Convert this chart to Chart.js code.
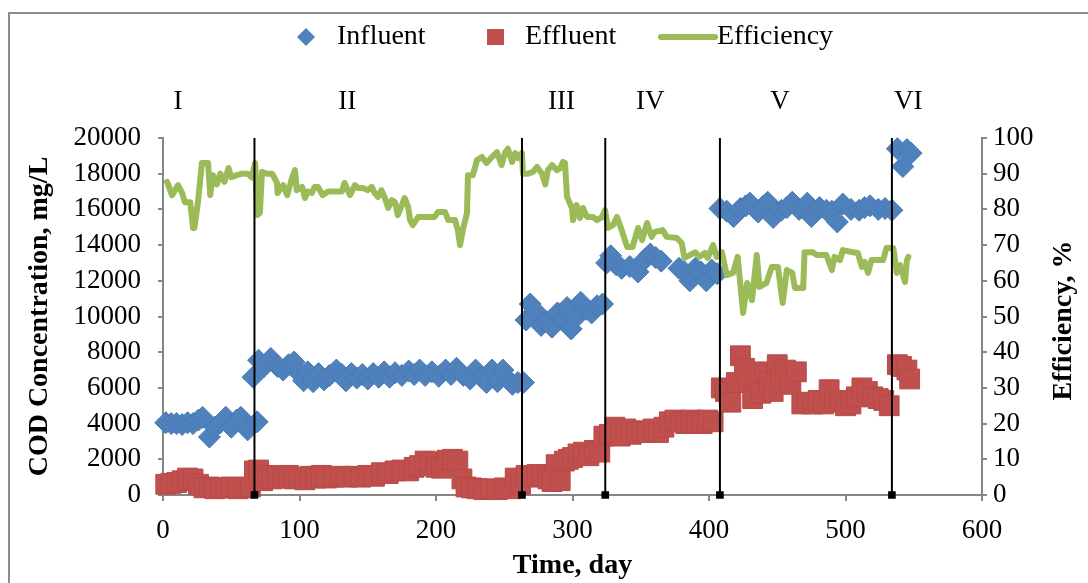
<!DOCTYPE html>
<html>
<head>
<meta charset="utf-8">
<title>COD removal</title>
<script src="https://cdn.jsdelivr.net/npm/chart.js@4.4.1/dist/chart.umd.min.js"></script>
<style>
  html, body { margin: 0; padding: 0; background: #fff; }
  #wrap { position: relative; width: 1088px; height: 583px; }
</style>
</head>
<body>
<div id="wrap"><canvas id="codChart"></canvas></div>
<script>
// values (day, mg/L or %)
const influentDays = [2, 6, 10, 14, 18, 22, 26, 29, 34, 38, 42, 46, 50, 54, 57, 62, 69,
    66, 70, 74, 79, 84, 88, 92, 96, 100, 103, 106, 110, 114, 118, 122, 127, 131, 134, 138, 142, 146, 150, 154, 158, 162, 166, 170, 175, 180, 184, 188, 192, 197, 202, 207, 211, 215, 220, 225, 229, 233, 237, 241, 245, 249, 253, 256, 260, 264,
    266, 269, 273, 277, 281, 285, 289, 293, 296, 299, 302, 306, 310, 314, 318, 322,
    325, 328, 332, 336, 342, 348, 353, 357, 361, 365, 378, 382, 386, 390, 394, 398, 402, 406,
    408, 413, 418, 423, 427, 430, 436, 440, 443, 447, 453, 457, 461, 466, 472, 475, 481, 486, 490, 494, 498, 504, 510, 514, 518, 524, 529, 534,
    538, 542, 545, 548];
const influentCod = [4050, 4000, 4000, 3950, 4050, 4000, 4200, 4350, 3250, 3800, 4050, 4350, 3800, 4200, 4350, 3650, 4100,
    6600, 7550, 7200, 7650, 7200, 7000, 7300, 7450, 6800, 6400, 6900, 6350, 6800, 6450, 6700, 7000, 6750, 6400, 6800, 6550, 6750, 6500, 6800, 6600, 6900, 6600, 6850, 6700, 6950, 6750, 7000, 6700, 6900, 6650, 7000, 6750, 7100, 6700, 6500, 7000, 6600, 6300, 7000, 6350, 7000, 6450, 6200, 6300, 6300,
    9800, 10700, 10300, 9500, 9700, 9400, 10200, 9800, 10500, 9300, 9900, 10800, 10400, 10200, 10600, 10700,
    13000, 13400, 12900, 12700, 12800, 12500, 13200, 13500, 13300, 13100, 12700, 12500, 12000, 12700, 12500, 12000, 12600, 12400,
    16050, 15900, 15600, 16050, 16200, 16350, 15850, 16200, 16400, 15550, 15950, 16100, 16400, 16000, 16350, 15600, 16100, 15950, 15900, 15300, 16300, 16000, 15950, 16100, 16200, 16000, 16050, 15950,
    19400, 18400, 19350, 19150];

const effluentDays = [2, 6, 10, 14, 18, 22, 26, 30, 34, 38, 42, 46, 50, 55, 60, 64, 67,
    70, 73, 77, 80, 84, 88, 92, 96, 100, 104, 108, 112, 116, 120, 125, 130, 135, 140, 145, 150, 155, 160, 165, 170, 175, 180, 184, 188, 192, 196, 200, 204, 208, 212, 216, 219, 222, 226, 230, 235, 240, 245, 250, 255, 258, 262,
    266, 270, 274, 278, 282, 285, 288, 291, 294, 297, 300, 304, 308, 312, 316, 320, 323,
    327, 331, 335, 339, 343, 347, 351, 355, 359, 363, 367, 371, 375, 379, 383, 387, 391, 395, 399, 403,
    409, 412, 416, 420, 423, 426, 429, 432, 435, 438, 441, 444, 447, 450, 453, 456, 460, 464, 468, 472, 476, 480, 484, 488, 492, 496, 500, 504, 508, 512, 516, 520, 524, 528, 532,
    538, 541, 545, 547];
const effluentCod = [600, 650, 700, 800, 950, 900, 600, 400, 450, 350, 400, 400, 450, 350, 400, 450, 1350,
    1400, 800, 1100, 900, 1050, 950, 1100, 900, 1000, 850, 1050, 950, 1100, 950, 1000, 1050, 1000, 1050, 1000, 1100, 1050, 1250, 1200, 1350, 1400, 1350, 1550, 1650, 1900, 1850, 1550, 1500, 1950, 2000, 1900, 900, 450, 400, 350, 300, 350, 300, 400, 350, 950, 600,
    1100, 1000, 1150, 1100, 900, 750, 1700, 800, 1900, 2000, 2100, 2300, 2400, 2200, 2500, 2400, 3300,
    3400, 3800, 3300, 3700, 3400, 3500, 3600, 3500, 3700, 3500, 3800, 4100, 4200, 4100, 4000, 4200, 4100, 4000, 4200, 4100,
    6000, 5800, 5200, 6300, 7800, 7100, 6300, 5400, 6400, 5700, 6900, 6300, 5800, 7300, 6700, 7000, 6200, 6900, 5100, 5200, 5100, 5300, 5100, 5900, 5200, 5300, 5000, 5100, 5500, 6000, 5800, 5500, 5400, 5300, 5000,
    7300, 7200, 7000, 6500];

const efficiencyDays = [3, 6.6, 11, 14, 16, 20, 22, 23, 25.6, 28.5, 33, 34.6, 36.6, 39.5, 42, 45, 48, 50, 54, 58, 62, 65, 67.5, 69, 71, 72.5, 76, 80, 83.5, 84,
    88, 91, 94.5, 96.7, 98, 102, 104, 106, 109, 111, 113.5, 117, 121, 131, 133, 137, 140.6, 143, 146.5, 150, 153, 155, 157.5, 160, 162.6, 165, 167.6, 170, 172, 175,
    177, 179.6, 181, 183, 187, 199, 201.5, 206.6, 209, 214, 216, 217.6, 220, 222.7, 223.4, 227, 230, 233.7, 237, 241, 244.7, 248, 250.5, 252.7, 255.7, 258, 260, 263, 263.7, 267.4,
    271, 274, 277.7, 280, 282, 285, 288.6, 291, 293, 294.5, 296, 299.6, 300.4, 303, 305.5, 307.7, 310.6, 315, 318, 321.6, 323.8, 326, 329.7, 332.6, 336, 340, 344, 348, 351, 354.6,
    358, 360.4, 366, 369, 376.5, 380, 382, 386, 390, 393, 397, 399, 403, 405.6, 409.5, 413, 417.6, 421, 425, 428, 431.5, 435, 437, 442, 446, 450.5, 454, 457, 461, 463,
    469, 470, 476, 479, 486, 490, 492, 496, 498, 505.5, 509, 512, 514, 516.5, 519, 527.5, 530, 535, 537.6, 540, 543.6, 545, 546];
const efficiencyPct = [87.7, 84, 86.8, 84.6, 82, 82, 74.8, 74.8, 82, 93, 93, 84, 89.6, 87, 90, 87.7, 91.6, 89, 89.6, 90, 90, 89, 93, 78.4, 79, 90.5, 90, 90, 87.4, 84.6,
    86.8, 84, 88.8, 91, 85.4, 86.3, 83.2, 85, 84.6, 86.3, 86.3, 84, 85, 85, 87.4, 84, 86.8, 86, 86, 85.4, 86.3, 84.6, 83.5, 85.4, 83.2, 80.4, 82.6, 82, 78.4, 81.2,
    83.2, 80.7, 77, 75.6, 77.9, 77.9, 79.3, 79.3, 77, 77, 74.2, 70, 74.8, 79, 89.6, 89.6, 93.8, 94.7, 93, 94.7, 96, 92.4, 95.8, 97, 93.3, 95.8, 94.4, 95.8, 90, 90,
    90.5, 91.9, 90, 87, 91, 92.4, 91, 91.6, 93.3, 93, 83.5, 80.4, 77, 81.2, 77.6, 80.4, 77.9, 77.9, 77, 77.9, 79.8, 74.8, 75.6, 77.9, 74.2, 69.5, 69.5, 74.8, 71.4, 76.2,
    72.3, 73.7, 74.2, 72.3, 72, 70.6, 66.4, 67.2, 68, 66.7, 67.8, 66.4, 70, 66.7, 68, 61.6, 62.2, 66.7, 51, 59.4, 54.6, 67.2, 58.3, 59.4, 63.9, 63.9, 53.8, 63, 62.2, 58,
    58, 68, 68, 67.2, 67.2, 63, 66.7, 65.8, 68.6, 68, 67.8, 63.9, 65.3, 62.2, 65.8, 65.8, 69.2, 69.2, 62.2, 64.4, 59.7, 65.8, 66.7];

// operating phases
const phaseBoundaries = [67, 263, 324, 408, 534];
const phaseLabels = ['I', 'II', 'III', 'IV', 'V', 'VI'];
const phaseLabelDays = [11, 135, 292, 357, 452, 546];

const SERIF = "'Liberation Serif', 'Times New Roman', serif";
const BLUE = '#4F81BD', RED = '#C0504D', GREEN = '#9BBB59', AXIS = '#868686';

function toPoints(xs, ys) {
    const n = Math.min(xs.length, ys.length);
    const pts = [];
    for (let i = 0; i < n; i++) pts.push({ x: xs[i], y: ys[i] });
    return pts;
}

function plainTick(value) {
    return String(value);
}

// roman numerals, legend, right axis title and outer frame
const decorPlugin = {
    id: 'decor',
    afterDraw(chart) {
        const ctx = chart.ctx;
        const xs = chart.scales.x;
        const area = chart.chartArea;
        ctx.save();

        ctx.strokeStyle = '#8c8c8c';
        ctx.lineWidth = 2;
        ctx.beginPath();
        ctx.moveTo(9, 583);
        ctx.lineTo(9, 13);
        ctx.lineTo(1088, 13);
        ctx.stroke();

        ctx.fillStyle = '#000';
        ctx.font = '27px ' + SERIF;
        ctx.textAlign = 'center';
        ctx.textBaseline = 'middle';
        phaseLabels.forEach(function (t, i) {
            ctx.fillText(t, xs.getPixelForValue(phaseLabelDays[i]), area.top - 36);
        });

        // right axis title, reading bottom to top
        ctx.save();
        ctx.translate(1064, (area.top + area.bottom) / 2 + 4);
        ctx.rotate(-Math.PI / 2);
        ctx.font = 'bold 28px ' + SERIF;
        ctx.fillText('Efficiency, %', 0, 0);
        ctx.restore();

        // legend
        const ly = 37;
        ctx.font = '28px ' + SERIF;
        ctx.textAlign = 'left';
        ctx.fillStyle = BLUE;
        ctx.beginPath();
        ctx.moveTo(306, ly - 9); ctx.lineTo(315, ly); ctx.lineTo(306, ly + 9); ctx.lineTo(297, ly);
        ctx.closePath();
        ctx.fill();
        ctx.fillStyle = '#000';
        ctx.fillText(chart.data.datasets[1].label, 337, ly);

        ctx.fillStyle = RED;
        ctx.fillRect(487, ly - 8, 17, 16);
        ctx.fillStyle = '#000';
        ctx.fillText(chart.data.datasets[2].label, 525, ly);

        ctx.strokeStyle = GREEN;
        ctx.lineWidth = 6;
        ctx.lineCap = 'round';
        ctx.beginPath();
        ctx.moveTo(661, ly); ctx.lineTo(715, ly);
        ctx.stroke();
        ctx.fillText(chart.data.datasets[0].label, 717, ly);
        ctx.restore();
    }
};

const datasets = [
    {
        label: 'Efficiency',
        data: toPoints(efficiencyDays, efficiencyPct),
        yAxisID: 'y2',
        showLine: true,
        borderColor: GREEN,
        backgroundColor: GREEN,
        borderWidth: 6,
        borderJoinStyle: 'round',
        borderCapStyle: 'round',
        pointRadius: 0,
        order: 1
    },
    {
        label: 'Influent',
        data: toPoints(influentDays, influentCod),
        yAxisID: 'y',
        pointStyle: 'rectRot',
        pointRadius: 11,
        backgroundColor: BLUE,
        borderColor: '#4a7ab3',
        borderWidth: 1,
        clip: false,
        order: 2
    },
    {
        label: 'Effluent',
        data: toPoints(effluentDays, effluentCod),
        yAxisID: 'y',
        pointStyle: 'rect',
        pointRadius: 14,
        backgroundColor: RED,
        borderColor: '#b84a47',
        borderWidth: 1,
        clip: false,
        order: 3
    }
];

phaseBoundaries.forEach(function (d) {
    datasets.push({
        label: 'phase ' + d,
        data: [{ x: d, y: 0 }, { x: d, y: 20000 }],
        yAxisID: 'y',
        showLine: true,
        borderColor: '#000',
        borderWidth: 2,
        pointStyle: 'rect',
        pointRadius: [4, 0],
        backgroundColor: '#000',
        clip: false,
        order: 0
    });
});

const ctxCod = document.getElementById('codChart').getContext('2d');
const codChart = new Chart(ctxCod, {
    type: 'scatter',
    data: { datasets: datasets },
    plugins: [decorPlugin],
    options: {
        responsive: true,
        maintainAspectRatio: false,
        animation: false,
        layout: { padding: { top: 138, left: 0, right: 0, bottom: 0 } },
        font: { family: SERIF },
        plugins: {
            legend: { display: false },
            tooltip: { enabled: false }
        },
        scales: {
            x: {
                type: 'linear',
                min: 0,
                max: 600,
                ticks: { stepSize: 100, color: '#000', font: { family: SERIF, size: 27 }, padding: 14, callback: plainTick },
                grid: { drawOnChartArea: false, drawTicks: true, tickLength: 6, color: AXIS, lineWidth: 2 },
                border: { color: AXIS, width: 2 },
                title: { display: true, text: 'Time, day', color: '#000', font: { family: SERIF, size: 28, weight: 'bold' }, padding: { top: 0, bottom: 0 } },
                afterFit: function (s) { s.height = 88; }
            },
            y: {
                type: 'linear',
                position: 'left',
                min: 0,
                max: 20000,
                ticks: { stepSize: 2000, color: '#000', font: { family: SERIF, size: 27 }, padding: 17, callback: plainTick },
                grid: { drawOnChartArea: false, drawTicks: true, tickLength: 5, color: AXIS, lineWidth: 2 },
                border: { color: AXIS, width: 2 },
                title: { display: true, text: 'COD Concentration, mg/L', color: '#000', font: { family: SERIF, size: 28, weight: 'bold' }, padding: { top: 23, bottom: 0 } },
                afterFit: function (s) { s.width = 163; }
            },
            y2: {
                type: 'linear',
                position: 'right',
                min: 0,
                max: 100,
                ticks: { stepSize: 10, color: '#000', font: { family: SERIF, size: 27 }, padding: 6, callback: plainTick },
                grid: { drawOnChartArea: false, drawTicks: true, tickLength: 5, color: AXIS, lineWidth: 2 },
                border: { color: AXIS, width: 2 },
                title: { display: false },
                afterFit: function (s) { s.width = 106; }
            }
        }
    }
});
</script>
</body>
</html>
